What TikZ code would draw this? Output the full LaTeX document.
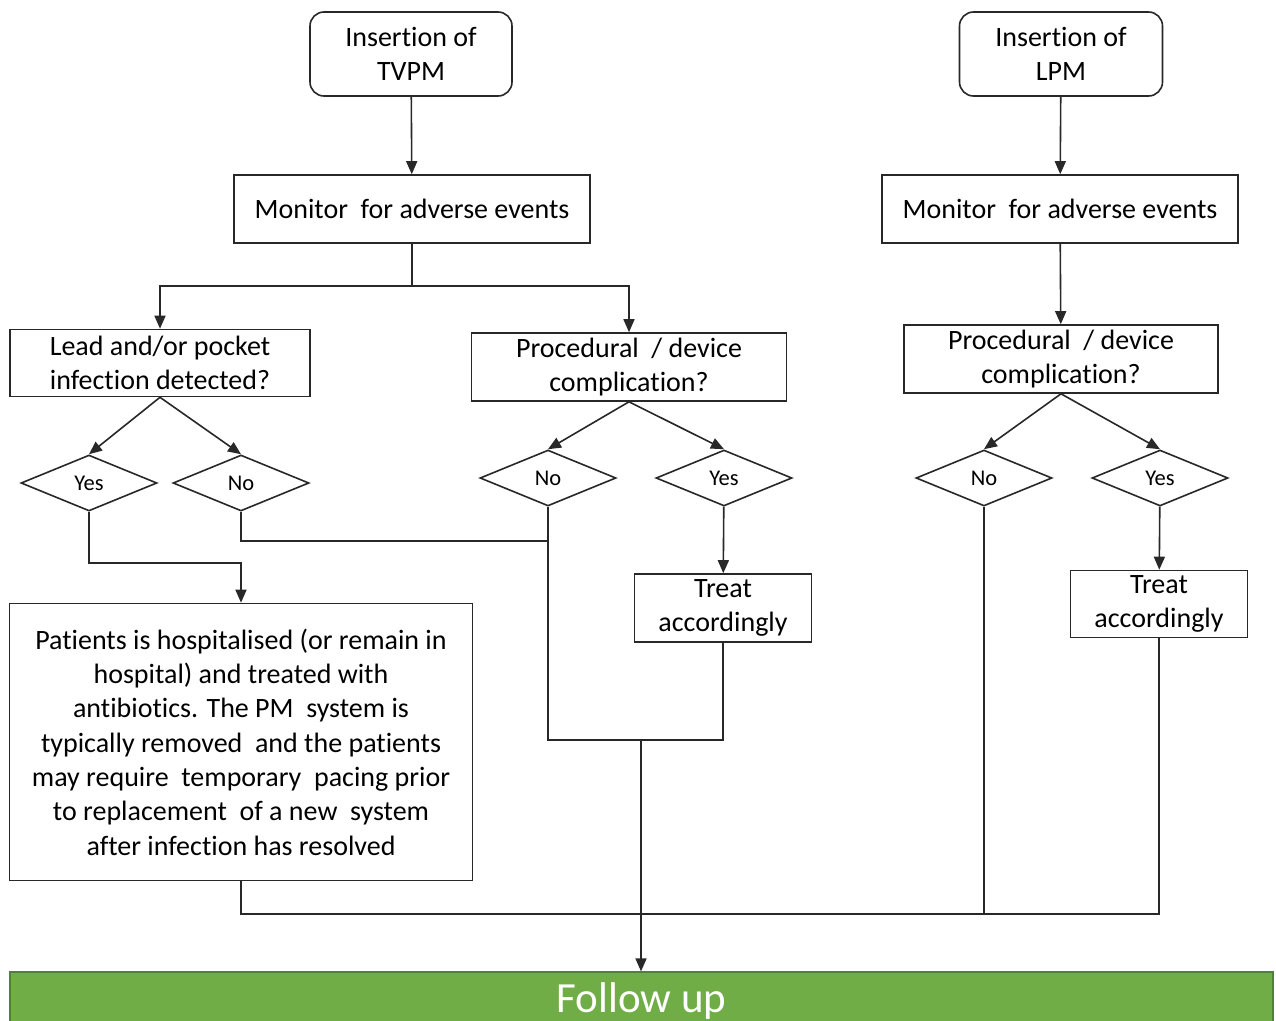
\documentclass[tikz,border=0pt]{standalone}
\usepackage{fontspec}
\setmainfont{Carlito}[Ligatures=NoCommon]
\usetikzlibrary{arrows.meta,shapes.geometric}
\definecolor{linegray}{RGB}{40,40,40}
\definecolor{fugreen}{RGB}{112,173,71}
\definecolor{fuborder}{RGB}{80,130,50}
\tikzset{
    box/.style={draw=linegray, line width=1.6pt, fill=white, align=center, inner sep=0pt,
        font=\fontsize{28}{34}\selectfont},
    startbox/.style={box, rounded corners=14pt},
    choice/.style={draw=linegray, line width=1.6pt, diamond, inner sep=0pt,
        minimum width=136pt, minimum height=56pt, font=\fontsize{22.5}{26}\selectfont},
    followbox/.style={draw=fuborder, line width=1.2pt, fill=fugreen, text=white,
        inner sep=0pt, font=\fontsize{43}{50}\selectfont},
    flow/.style={draw=linegray, line width=1.6pt, -{Triangle[length=13pt,width=11pt]}},
    link/.style={draw=linegray, line width=1.6pt},
}

\begin{document}
\begin{tikzpicture}[x=1pt,y=-1pt]
    \clip (0,0) rectangle (1276,1020);
    \fill[white] (0,0) rectangle (1276,1020);

    % TVPM branch
    \node[startbox, minimum width=202pt, minimum height=84pt] (tvpm) at (411,54) {Insertion of\\TVPM};
    \node[box, minimum width=356pt, minimum height=68pt] (mon1) at (412,209) {Monitor\ \ for adverse events};
    \node[box, minimum width=300pt, minimum height=67pt] (inf) at (160,363) {Lead and/or pocket\\infection detected?};
    \node[box, minimum width=315pt, minimum height=68pt] (proc1) at (629,367) {Procedural\ \ / device\\complication?};
    \node[choice] (yes1) at (89,483) {Yes};
    \node[choice] (no1) at (241,483) {No};
    \node[choice] (no2) at (548,478) {No};
    \node[choice] (yes2) at (724,478) {Yes};
    \node[box, minimum width=463pt, minimum height=277pt, font=\fontsize{28}{34.3}\selectfont] (hosp) at (241,742)
        {Patients is hospitalised (or remain in\\hospital) and treated with\\antibiotics. The PM\ \ system is\\typically removed\ \ and the patients\\may require\ \ temporary\ \ pacing prior\\to replacement\ \ of a new\ \ system\\after infection has resolved};
    \node[box, minimum width=177pt, minimum height=68pt] (treat1) at (723,608) {Treat\\accordingly};

    % LPM branch
    \node[startbox, minimum width=203pt, minimum height=84pt] (lpm) at (1061,54) {Insertion of\\LPM};
    \node[box, minimum width=356pt, minimum height=68pt] (mon2) at (1060,209) {Monitor\ \ for adverse events};
    \node[box, minimum width=314pt, minimum height=68pt] (proc2) at (1061,359) {Procedural\ \ / device\\complication?};
    \node[choice] (no3) at (984,478) {No};
    \node[choice] (yes3) at (1160,478) {Yes};
    \node[box, minimum width=177pt, minimum height=67pt] (treat2) at (1159,604) {Treat\\accordingly};

    \node[followbox, minimum width=1263pt, minimum height=58pt] (fu) at (641.5,1001) {Follow up};

    \coordinate (split) at (412,286);
    \coordinate (merge) at (641,740);
    \coordinate (bottom) at (0,914);

    \draw[flow] (tvpm) -- (mon1);
    \draw[link] (mon1) -- (split);
    \draw[flow] (split) -| (inf.north);
    \draw[flow] (split) -| (proc1.north);
    \draw[flow] (inf.south) -- (yes1.north);
    \draw[flow] (inf.south) -- (no1.north);
    \draw[flow] (proc1.south) -- (no2.north);
    \draw[flow] (proc1.south) -- (yes2.north);
    \draw[flow] (yes1.south) -- ++(0,51) -| (hosp.north);
    \draw[link] (no1.south) -- ++(0,29) -| (no2.south);
    \draw[flow] (yes2) -- (treat1);
    \draw[link] (no2.south) |- (treat1.south |- merge) -- (treat1.south);
    \draw[flow] (merge) -- (merge |- fu.north);

    \draw[flow] (lpm) -- (mon2);
    \draw[flow] (mon2) -- (proc2);
    \draw[flow] (proc2.south) -- (no3.north);
    \draw[flow] (proc2.south) -- (yes3.north);
    \draw[flow] (yes3) -- (treat2);

    \draw[link] (hosp.south) |- (treat2.south |- bottom) -- (treat2.south);
    \draw[link] (no3.south) -- (no3.south |- bottom);
\end{tikzpicture}
\end{document}
